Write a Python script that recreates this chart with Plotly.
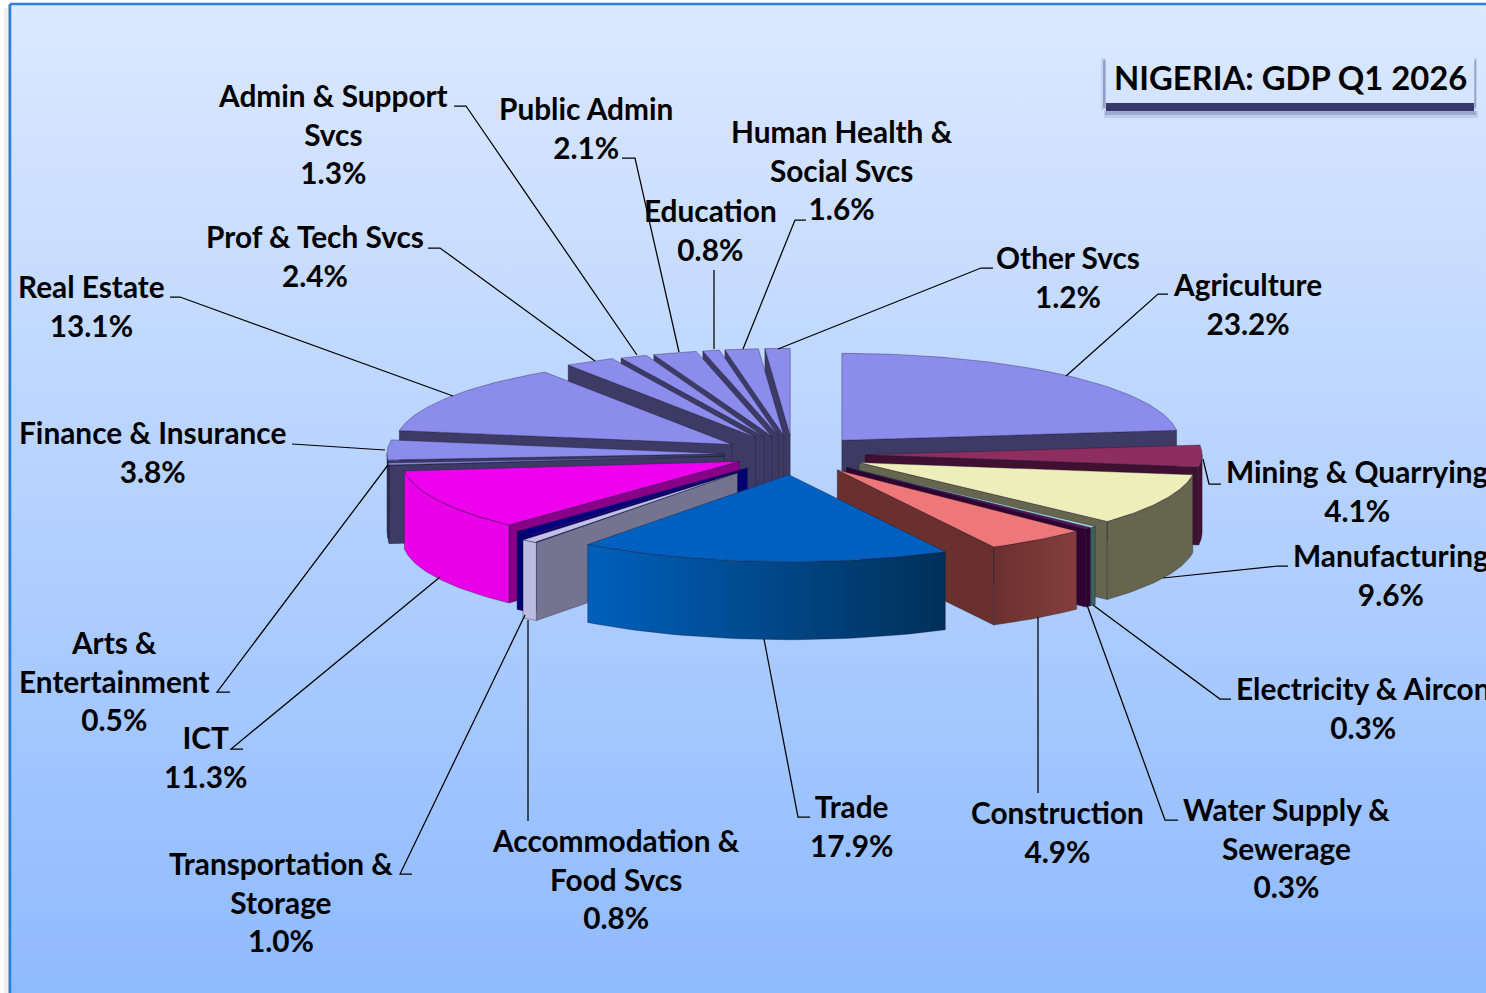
import numpy as np
import plotly.graph_objects as go

# ---------- data ----------
sectors = ["Agriculture", "Mining & Quarrying", "Manufacturing", "Electricity & Aircon",
           "Water Supply & Sewerage", "Construction", "Trade", "Accommodation & Food Svcs",
           "Transportation & Storage", "ICT", "Arts & Entertainment", "Finance & Insurance",
           "Real Estate", "Prof & Tech Svcs", "Admin & Support Svcs", "Public Admin",
           "Education", "Human Health & Social Svcs", "Other Svcs"]
shares = [23.2, 4.1, 9.6, 0.3, 0.3, 4.9, 17.9, 0.8, 1.0, 11.3, 0.5, 3.8, 13.1, 2.4, 1.3, 2.1, 0.8, 1.6, 1.2]
label_lines = ["Agriculture", "Mining & Quarrying", "Manufacturing", "Electricity & Aircon",
               "Water Supply &<br>Sewerage", "Construction", "Trade", "Accommodation &<br>Food Svcs",
               "Transportation &<br>Storage", "ICT", "Arts &<br>Entertainment", "Finance & Insurance",
               "Real Estate", "Prof & Tech Svcs", "Admin & Support<br>Svcs", "Public Admin",
               "Education", "Human Health &<br>Social Svcs", "Other Svcs"]
title_text = "NIGERIA: GDP Q1 2026"

# ---------- styling / layout ----------
pulls = [.218, .214, .217, .22, .22, .221, .233, .267, .205, .178, .205, .205, .215, .226, .22, .22, .22, .22, .22]
nudge_x = {"Trade": 2}
LAV, LAVD = "#8c8cec", "#3d3b66"
tops = [LAV, "#8e2d5f", "#eeeebb", "#a6d6d6", "#6a0a6a", "#ee7777", "#0060c0", "#c0c0e8", "#000080", "#ee00ee",
        LAV, LAV, LAV, LAV, LAV, LAV, LAV, LAV, LAV]
sides = [LAVD, "#3f1030", "#66664e", "#406060", "#2f0030", "#6a302e", "#003a70", "#747490", "#000070", "#880088",
         LAVD, LAVD, LAVD, LAVD, LAVD, LAVD, LAVD, LAVD, LAVD]
walls = [LAVD, "#3f1030", "#66664e", "#406060", "#2f0030", ("#6a302e", "#843e3c"), ("#0060bc", "#003058"),
         "#bcbce2", "#000070", "#e800e8", LAVD, LAVD, LAVD, LAVD, LAVD, LAVD, LAVD, LAVD, LAVD]
CX, CY, RX, RY, H = 793, 454.5, 337, 87, 78
EDGE = "rgba(25,25,50,0.45)"

label_pos = [(1247, 303.5), (1357, 491), (1391, 575), (1363, 708), (1286, 848), (1057, 832), (851, 826), (616, 879),
             (281, 902), (205, 757), (114, 681), (152, 452), (91, 306), (315, 256), (333, 134), (586, 128),
             (710, 230), (842, 170), (1068, 277)]
leaders = [[(1168, 294), (1158, 294), (1066, 376)], [(1221, 484), (1209, 484), (1203, 459)],
           [(1288, 566), (1278, 566), (1163, 578)], [(1231, 699), (1220, 699), (1093, 605)],
           [(1178, 820), (1165, 820), (1087, 605)], [(1038, 793), (1038, 617)],
           [(810, 817), (798, 817), (764, 639)], [(528, 821), (528, 620)],
           [(412, 874), (400, 874), (525, 615)], [(243, 749), (231, 749), (440, 577)],
           [(230, 692), (217, 692), (388, 465)], [(292, 444), (385, 450)],
           [(170, 297), (180, 297), (453, 396)], [(428, 248), (440, 248), (595, 361)],
           [(454, 106), (466, 106), (637, 355)], [(622, 158), (635, 158), (679, 352)],
           [(714, 270), (714, 349)], [(806, 220), (795, 220), (743, 349)], [(993, 268), (981, 268), (778, 349)]]

fig = go.Figure()


def poly(xs, ys, color, edge=EDGE, lw=0.8):
    kw = dict(fillcolor=color)
    if isinstance(color, tuple):
        kw = dict(fillgradient=dict(type="horizontal", colorscale=[[0, color[0]], [1, color[1]]]))
    fig.add_trace(go.Scatter(x=list(xs) + [xs[0]], y=list(ys) + [ys[0]], mode="lines", fill="toself",
                             line=dict(color=edge, width=lw), hoverinfo="skip", showlegend=False, **kw))


# page background
poly([10, 1490, 1490, 10], [4, 4, 998, 998], "#dbe8ff", edge="#2a80dc", lw=2.5)
fig.data[-1].update(fillcolor=None, fillgradient=dict(type="vertical", colorscale=[[0, "#8ebaff"], [1, "#dce9ff"]]))

# slices
total = sum(shares)
bounds = np.cumsum([0] + shares) / total * 2 * np.pi
geom = []
for i in range(len(shares)):
    a0, a1 = bounds[i], bounds[i + 1]
    mid = (a0 + a1) / 2
    geom.append((CX + pulls[i] * RX * np.sin(mid) + nudge_x.get(sectors[i], 0),
                 CY - pulls[i] * RY * np.cos(mid), a0, a1))

n = len(shares)
trade = sectors.index("Trade")
order = list(range(trade)) + list(range(n - 1, trade, -1)) + [trade]
for i in order:
    tx, ty, a0, a1 = geom[i]
    rim = lambda a: (tx + RX * np.sin(a), ty - RY * np.cos(a))
    for a, show in ((a0, np.sin(a0) < 0), (a1, np.sin(a1) > 0)):
        if show:
            px, py = rim(a)
            poly([tx, px, px, tx], [ty, py, py + H, ty + H], sides[i])
    lo, hi = max(a0, np.pi / 2), min(a1, 3 * np.pi / 2)
    if hi > lo:
        t = np.linspace(lo, hi, 40)
        xs, ys = rim(t)
        poly(np.r_[xs, xs[::-1]], np.r_[ys, ys[::-1] + H], walls[i])
    t = np.linspace(a0, a1, 60)
    xs, ys = rim(t)
    poly(np.r_[tx, xs], np.r_[ty, ys], tops[i])

# leader lines
shapes = []
for pts in leaders:
    path = "M " + " L ".join(f"{x},{y}" for x, y in pts)
    shapes.append(dict(type="path", path=path, line=dict(color="#000000", width=1.25), layer="above"))

# outer shadow of the frame
shapes.append(dict(type="rect", x0=4, x1=8, y0=8, y1=993, fillcolor="#eeeeee", line_width=0, layer="below"))
shapes.append(dict(type="rect", x0=8, x1=9, y0=5, y1=993, fillcolor="#c4c4c4", line_width=0, layer="below"))

# title box decoration: soft shadow built from stacked translucent bars
SH = "rgba(60,70,120,{})"
shapes += [
    dict(type="rect", x0=1104, x1=1478, y0=111, y1=118, fillcolor=SH.format(0.14), line_width=0),
    dict(type="rect", x0=1105, x1=1476, y0=111, y1=115, fillcolor=SH.format(0.25), line_width=0),
    dict(type="rect", x0=1106, x1=1474, y0=103, y1=111, fillcolor="#38386a", line_width=0),
    dict(type="rect", x0=1101, x1=1106, y0=58, y1=110, fillcolor=SH.format(0.12), line_width=0),
    dict(type="rect", x0=1103, x1=1105.5, y0=60, y1=108, fillcolor=SH.format(0.35), line_width=0),
    dict(type="rect", x0=1474, x1=1477, y0=58, y1=110, fillcolor=SH.format(0.12), line_width=0),
    dict(type="rect", x0=1474.5, x1=1476, y0=60, y1=108, fillcolor=SH.format(0.35), line_width=0),
]

FONT = dict(family="Lato", size=29.8, color="#000000", weight=700)
ann = []
for i in range(n):
    ann.append(dict(x=label_pos[i][0], y=label_pos[i][1], xref="x", yref="y", text=f"{label_lines[i]}<br>{shares[i]:.1f}%",
                    showarrow=False, align="center", xanchor="center", yanchor="middle", font=FONT))
ann.append(dict(x=1290, y=77, xref="x", yref="y", text=title_text, showarrow=False, xanchor="center",
                yanchor="middle", font=dict(family="Lato", size=32.8, color="#000000", weight=700)))

fig.update_layout(width=1486, height=993, margin=dict(l=0, r=0, t=0, b=0), paper_bgcolor="white",
                  plot_bgcolor="white", showlegend=False, shapes=shapes, annotations=ann,
                  xaxis=dict(range=[0, 1486], visible=False, fixedrange=True),
                  yaxis=dict(range=[993, 0], visible=False, fixedrange=True))
fig.write_html("out.html", config=dict(displayModeBar=False),
               post_script="document.body.style.margin='0';document.body.style.overflow='hidden';")
